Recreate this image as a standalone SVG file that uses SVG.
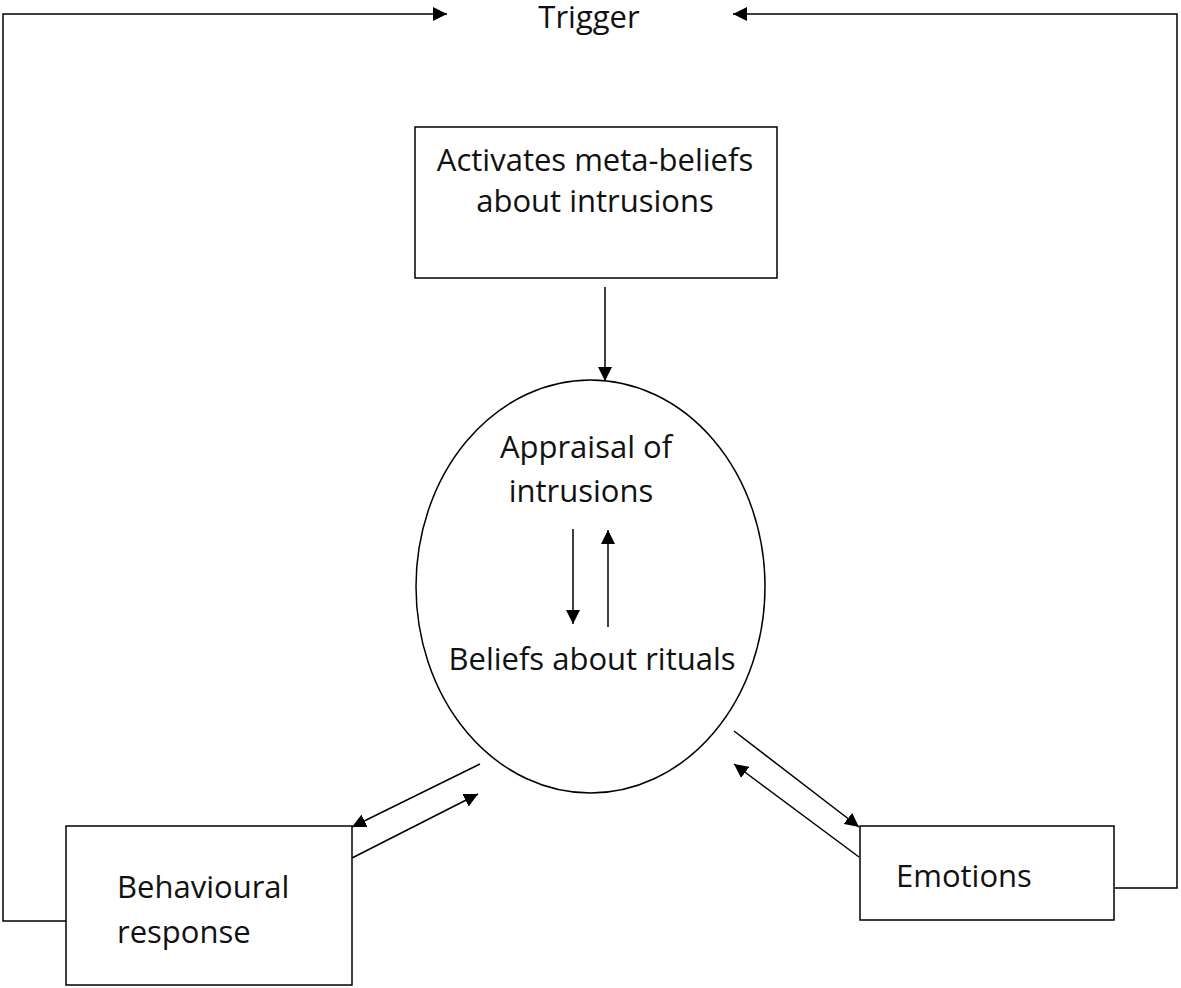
<svg xmlns="http://www.w3.org/2000/svg" width="1181" height="988" viewBox="0 0 1181 988">
<style>
.box{fill:#fff;stroke:#000;stroke-width:1.5}
.ln{fill:none;stroke:#000;stroke-width:1.5}
text{font-family:"Open Sans","Liberation Sans",sans-serif;font-size:31px;fill:#111}
</style>
<defs>
<marker id="ah" viewBox="0 0 10 10" refX="10" refY="5" markerWidth="14" markerHeight="14" markerUnits="userSpaceOnUse" orient="auto">
<path d="M0,0 L10,5 L0,10 z" fill="#000"/>
</marker>
</defs>
<rect width="1181" height="988" fill="#fff"/>
<g id="trigger">
<text x="589" y="28" text-anchor="middle">Trigger</text>
</g>
<g id="meta">
<rect class="box" x="415" y="127" width="362" height="151"/>
<text x="595" y="171" text-anchor="middle">Activates meta-beliefs</text>
<text x="595" y="212" text-anchor="middle">about intrusions</text>
</g>
<g id="appraisal">
<ellipse class="box" cx="590.5" cy="586.5" rx="174.5" ry="206.5"/>
<text x="586" y="458" text-anchor="middle">Appraisal of</text>
<text x="581" y="502" text-anchor="middle">intrusions</text>
<text x="592" y="670" text-anchor="middle">Beliefs about rituals</text>
</g>
<g id="behavioural">
<rect class="box" x="66" y="826" width="286" height="159"/>
<text x="117" y="898">Behavioural</text>
<text x="117" y="943">response</text>
</g>
<g id="emotions">
<rect class="box" x="860" y="826" width="254" height="94"/>
<text x="896" y="887">Emotions</text>
</g>
<g id="connectors">
<polyline class="ln" points="66,921 3,921 3,14 447,14" marker-end="url(#ah)"/>
<polyline class="ln" points="1115,888 1177,888 1177,14 733,14" marker-end="url(#ah)"/>
<line class="ln" x1="605" y1="287" x2="605" y2="381" marker-end="url(#ah)"/>
<line class="ln" x1="573" y1="529" x2="573" y2="624" marker-end="url(#ah)"/>
<line class="ln" x1="608" y1="627" x2="608" y2="530" marker-end="url(#ah)"/>
<line class="ln" x1="480" y1="764" x2="352" y2="827" marker-end="url(#ah)"/>
<line class="ln" x1="352" y1="858" x2="478" y2="794" marker-end="url(#ah)"/>
<line class="ln" x1="734" y1="731" x2="859" y2="827" marker-end="url(#ah)"/>
<line class="ln" x1="859" y1="857" x2="734" y2="764" marker-end="url(#ah)"/>
</g>
</svg>
